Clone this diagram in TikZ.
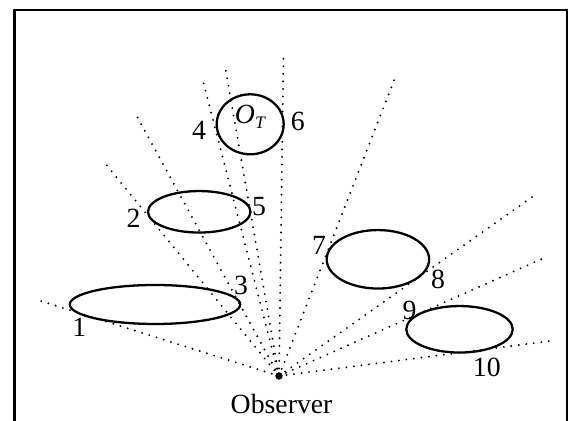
\documentclass[tikz,border=0pt]{standalone}
\usepackage{fontspec}
\setmainfont{Liberation Serif}
\usetikzlibrary{shapes.geometric}
\tikzset{
  every picture/.style={x=0.02cm, y=-0.02cm, font=\fontsize{15.8}{18}\selectfont},
  obj/.style={draw, ellipse, line width=1.3pt, inner sep=0pt},
  sight/.style={line width=1.2pt, dash pattern=on 0pt off 4.3pt, line cap=round},
  num/.style={inner sep=0pt},
}

\begin{document}
\begin{tikzpicture}
  \useasboundingbox (0,0) rectangle (569,421);
  \draw[line width=1.4pt] (14.5,421) -- (14.5,10) -- (567,10) -- (567,421);
  \node[circle, fill, inner sep=0pt, minimum size=0.15cm] (obs) at (279,376) {};
  \coordinate (r1) at (34.5,299);
  \coordinate (r2) at (104,162);
  \coordinate (r3) at (134,111);
  \coordinate (r4) at (203,81);
  \coordinate (r5) at (225.5,69);
  \coordinate (r6) at (283.5,54);
  \coordinate (r7) at (395,78);
  \coordinate (r8) at (535,195);
  \coordinate (r9) at (544,258);
  \coordinate (r10) at (550,341);
  \draw[sight] (obs.center) -- (r1);
  \draw[sight] (obs.center) -- (r2);
  \draw[sight] (obs.center) -- (r3);
  \draw[sight] (obs.center) -- (r4);
  \draw[sight] (obs.center) -- (r5);
  \draw[sight] (obs.center) -- (r6);
  \draw[sight] (obs.center) -- (r7);
  \draw[sight] (obs.center) -- (r8);
  \draw[sight] (obs.center) -- (r9);
  \draw[sight] (obs.center) -- (r10);
  \node[obj, minimum width=3.41cm, minimum height=0.78cm] (e1) at (155,304.5) {};
  \node[obj, minimum width=2.05cm, minimum height=0.83cm] (e2) at (199.2,211.8) {};
  \node[obj, minimum width=1.34cm, minimum height=1.2cm] (ot) at (250.2,124.3) {};
  \node[obj, minimum width=2.05cm, minimum height=1.17cm] (e7) at (377.9,259.3) {};
  \node[obj, minimum width=2.13cm, minimum height=0.93cm] (e9) at (459.5,329.3) {};
  \node[num] (n1) at (79.3,327) {1};
  \node[num] (n2) at (133.6,218.7) {2};
  \node[num] (n3) at (241,285) {3};
  \node[num] (n4) at (199,130) {4};
  \node[num] (n5) at (259,207) {5};
  \node[num] (n6) at (297.9,121) {6};
  \node[num] (n7) at (319,245) {7};
  \node[num] (n8) at (438,279) {8};
  \node[num] (n9) at (409.5,310) {9};
  \node[num] (n10) at (486.8,367) {10};
  \node[num] (lot) at (250.4,116.7) {\textit{O}\raisebox{-0.45ex}{\fontsize{10}{12}\selectfont\textit{T}}};
  \node[num] (lobs) at (281.6,404) {Observer};
\end{tikzpicture}
\end{document}
